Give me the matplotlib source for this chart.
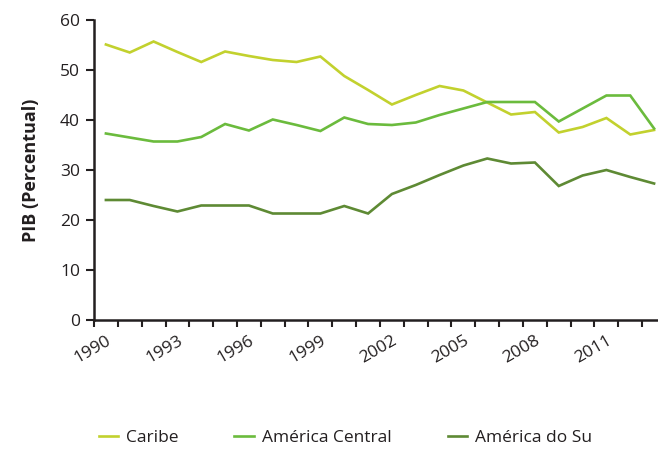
import numpy as np
import matplotlib
matplotlib.use("Agg")
import matplotlib.pyplot as plt

plt.rcParams['font.family'] = ['Open Sans', 'DejaVu Sans']

anos = list(range(1990, 2014))
caribe = [55.1, 53.5, 55.7, 53.6, 51.6, 53.7, 52.8, 52.0, 51.6, 52.7,
          48.8, 46.0, 43.1, 45.0, 46.8, 45.9, 43.5, 41.1, 41.6, 37.5,
          38.6, 40.4, 37.1, 38.0]
america_central = [37.3, 36.5, 35.7, 35.7, 36.6, 39.2, 37.9, 40.1, 39.0, 37.8,
                   40.5, 39.2, 39.0, 39.5, 41.0, 42.3, 43.6, 43.6, 43.6, 39.7,
                   42.3, 44.9, 44.9, 38.3]
america_sul = [24.0, 24.0, 22.8, 21.7, 22.9, 22.9, 22.9, 21.3, 21.3, 21.3,
               22.8, 21.3, 25.2, 27.0, 29.0, 30.9, 32.3, 31.3, 31.5, 26.8,
               28.9, 30.0, 28.6, 27.3]
series = ["Caribe", "América Central", "América do Su"]
cores = ["#c2d12e", "#6bbb3d", "#5e8a34"]

fig = plt.figure(figsize=(6.58, 4.49), dpi=100)
ax = fig.add_axes([94/658, 129/449, 572/658, 300/449])

x = np.arange(len(anos)) + 0.5
for vals, nome, c in zip([caribe, america_central, america_sul], series, cores):
    ax.plot(x, vals, color=c, lw=1.9, label=nome, solid_joinstyle='miter')

ax.set_xlim(0, len(anos))
ax.set_ylim(0, 60)
ax.set_yticks(range(0, 61, 10))

# category boundaries carry the tick marks, labels every 3 years
ax.set_xticks(np.arange(len(anos) + 1), minor=True)
ax.set_xticks(x[::3])
ax.set_xticklabels([str(a) for a in anos[::3]], rotation=30, ha='right',
                   rotation_mode='anchor')
ax.tick_params(axis='x', which='major', length=0, pad=9, labelsize=12.5,
               colors='#231f20')
ax.tick_params(axis='x', which='minor', length=5, width=1.5, color='#231f20')
ax.tick_params(axis='y', length=6, width=1.5, color='#231f20', labelsize=12.5,
               labelcolor='#231f20', pad=4)

for s in ['top', 'right']:
    ax.spines[s].set_visible(False)
for s in ['left', 'bottom']:
    ax.spines[s].set_linewidth(1.8)
    ax.spines[s].set_color('#231f20')

ax.set_ylabel("PIB (Percentual)", fontsize=13, fontweight='bold',
              color='#231f20')
ax.yaxis.set_label_coords(-54/572, 0.5)

fig.legend(loc='center left', bbox_to_anchor=(83/658, 1 - 438/449), ncol=3,
           frameon=False, fontsize=12.5, handlelength=1.1, handletextpad=0.5,
           columnspacing=3.2, labelcolor='#231f20')

fig.savefig("out.png", dpi=100)
